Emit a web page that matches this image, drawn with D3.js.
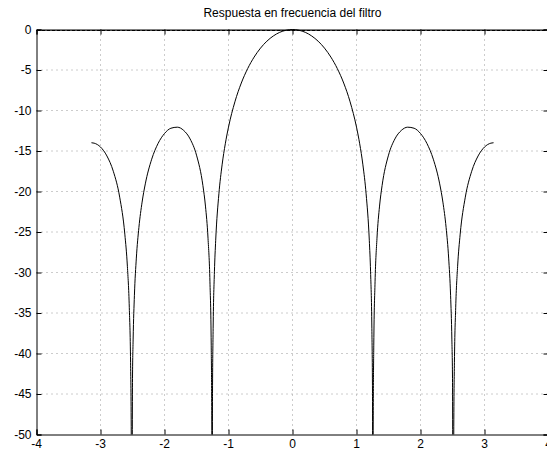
<!DOCTYPE html>
<html>
<head>
<meta charset="utf-8">
<script src="https://cdn.jsdelivr.net/npm/d3@7"></script>
<style>
  body { margin: 0; background: #fff; }
  svg { display: block; font-family: "Liberation Sans", Arial, sans-serif; }
</style>
</head>
<body>
<div id="chart"></div>
<script>
// frequency (rad) and magnitude (dB)
const freq = [-3.1416, -3.1, -3.05, -3.0, -2.9, -2.8, -2.7, -2.62, -2.58, -2.55, -2.53, -2.52, -2.5133,
  -2.5, -2.49, -2.47, -2.44, -2.4, -2.35, -2.3, -2.2, -2.1, -2.0, -1.9, -1.8, -1.7, -1.6, -1.5, -1.4,
  -1.36, -1.32, -1.29, -1.27, -1.26, -1.2566, -1.25, -1.24, -1.22, -1.2, -1.15, -1.1, -1.05, -1.0,
  -0.9, -0.8, -0.7, -0.6, -0.5, -0.4, -0.3, -0.2, -0.1, 0,
  0.1, 0.2, 0.3, 0.4, 0.5, 0.6, 0.7, 0.8, 0.9, 1.0, 1.05, 1.1, 1.15, 1.2, 1.22, 1.24, 1.25, 1.2566,
  1.26, 1.27, 1.29, 1.32, 1.36, 1.4, 1.5, 1.6, 1.7, 1.8, 1.9, 2.0, 2.1, 2.2, 2.3, 2.35, 2.4, 2.44,
  2.47, 2.49, 2.5, 2.5133, 2.52, 2.53, 2.55, 2.58, 2.62, 2.7, 2.8, 2.9, 3.0, 3.05, 3.1, 3.1416]
const magDb = [-13.98, -14.03, -14.20, -14.51, -15.61, -17.50, -20.70, -25.26, -29.23, -34.35, -41.14, -49.04, -80,
  -43.11, -38.22, -32.81, -28.22, -24.44, -21.31, -19.06, -16.01, -14.06, -12.84, -12.19, -12.06, -12.46, -13.51, -15.51, -19.26,
  -21.80, -25.77, -31.15, -38.97, -50.89, -80, -44.93, -36.89, -29.92, -26.02, -20.28, -16.71, -14.11, -12.05,
  -8.93, -6.61, -4.82, -3.41, -2.30, -1.44, -0.80, -0.35, -0.09, 0,
  -0.09, -0.35, -0.80, -1.44, -2.30, -3.41, -4.82, -6.61, -8.93, -12.05, -14.11, -16.71, -20.28, -26.02, -29.92, -36.89, -44.93, -80,
  -50.89, -38.97, -31.15, -25.77, -21.80, -19.26, -15.51, -13.51, -12.46, -12.06, -12.19, -12.84, -14.06, -16.01, -19.06, -21.31, -24.44, -28.22,
  -32.81, -38.22, -43.11, -80, -49.04, -41.14, -34.35, -29.23, -25.26, -20.70, -17.50, -15.61, -14.51, -14.20, -14.03, -13.98]

const xTicks = [-4, -3, -2, -1, 0, 1, 2, 3, 4]
const yTicks = [0, -5, -10, -15, -20, -25, -30, -35, -40, -45, -50]
const title = "Respuesta en frecuencia del filtro"

const W = 547, H = 454
const plotL = 36.5, plotR = 548.5, plotT = 29.5, plotB = 434.5

const svg = d3.select("#chart").append("svg")
    .attr("width", W)
    .attr("height", H)

const x = d3.scaleLinear().domain([-4, 4]).range([plotL, plotR])
const y = d3.scaleLinear().domain([-50, 0]).range([plotB, plotT])

// dotted grid
svg.selectAll("line.vgrid")
    .data(xTicks.slice(1, -1))
    .enter().append("line")
    .attr("x1", d => x(d)).attr("x2", d => x(d))
    .attr("y1", plotT).attr("y2", plotB)
    .style("stroke", "#999")
    .style("stroke-dasharray", "1 4")

svg.selectAll("line.hgrid")
    .data(yTicks.slice(0, -1))
    .enter().append("line")
    .attr("x1", plotL).attr("x2", plotR)
    .attr("y1", d => d === 0 ? y(d) + 1 : y(d)).attr("y2", d => d === 0 ? y(d) + 1 : y(d))
    .style("stroke", d => d === 0 ? "#000" : "#999")
    .style("stroke-dasharray", d => d === 0 ? "4 1" : "1 4")

// curve
svg.append("clipPath").attr("id", "clip")
    .append("rect")
    .attr("x", plotL).attr("y", plotT - 2)
    .attr("width", plotR - plotL).attr("height", plotB - plotT + 2)

const pts = freq.map((f, i) => [f, magDb[i]])
svg.append("path")
    .datum(pts)
    .attr("clip-path", "url(#clip)")
    .attr("d", d3.line().x(d => x(d[0])).y(d => y(d[1])).curve(d3.curveMonotoneX))
    .style("fill", "none")
    .style("stroke", "#000")
    .style("stroke-width", 1)

// axes: inward ticks on all four sides
svg.append("g")
    .attr("transform", "translate(0," + plotB + ")")
    .call(d3.axisTop(x).tickValues(xTicks).tickSize(5).tickFormat(""))
svg.append("g")
    .attr("transform", "translate(0," + plotT + ")")
    .call(d3.axisBottom(x).tickValues(xTicks).tickSize(5).tickFormat(""))
svg.append("g")
    .attr("transform", "translate(" + plotL + ",0)")
    .call(d3.axisRight(y).tickValues(yTicks).tickSize(5).tickFormat(""))
svg.append("g")
    .attr("transform", "translate(" + plotR + ",0)")
    .call(d3.axisLeft(y).tickValues(yTicks).tickSize(5).tickFormat(""))
svg.selectAll(".domain").style("stroke", "#000")
svg.selectAll(".tick line").style("stroke", "#000")

// tick labels
svg.selectAll("text.xlab")
    .data(xTicks)
    .enter().append("text")
    .attr("x", d => x(d))
    .attr("y", plotB + 13)
    .attr("text-anchor", "middle")
    .style("font-size", "12px")
    .text(d => d)

svg.selectAll("text.ylab")
    .data(yTicks)
    .enter().append("text")
    .attr("x", plotL - 5)
    .attr("y", d => y(d) + 4)
    .attr("text-anchor", "end")
    .style("font-size", "12px")
    .text(d => d)

// title
svg.append("text")
    .attr("x", (plotL + plotR) / 2)
    .attr("y", 17)
    .attr("text-anchor", "middle")
    .style("font-size", "12px")
    .text(title)
</script>
</body>
</html>
